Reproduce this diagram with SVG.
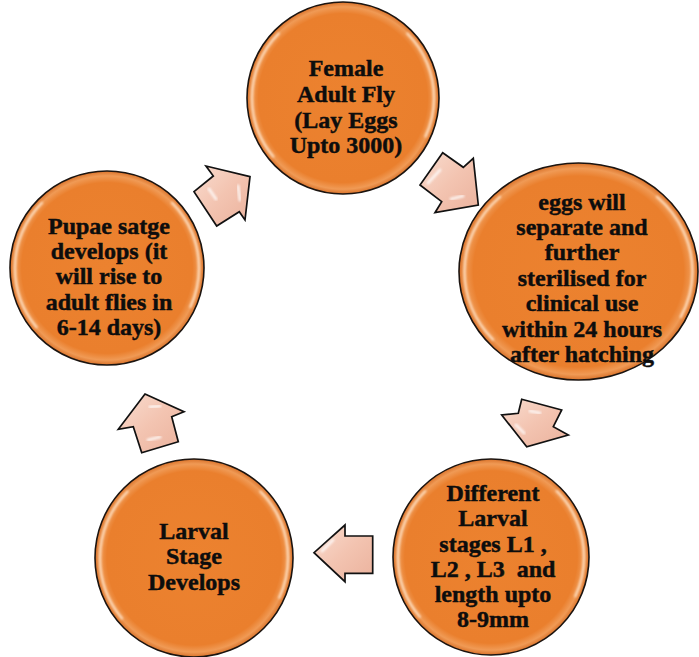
<svg xmlns="http://www.w3.org/2000/svg" width="699" height="657" viewBox="0 0 699 657">
  <defs>
    <radialGradient id="ballFill" cx="50%" cy="50%" r="50%">
      <stop offset="0" stop-color="#EC822F"/>
      <stop offset="0.88" stop-color="#EA7F2D"/>
      <stop offset="0.95" stop-color="#F09A55"/>
      <stop offset="1" stop-color="#D9722A"/>
    </radialGradient>
    <linearGradient id="arrowFill" x1="0" y1="0" x2="1" y2="1">
      <stop offset="0" stop-color="#F9DCCF"/>
      <stop offset="0.5" stop-color="#F3C4B1"/>
      <stop offset="1" stop-color="#EBB29D"/>
    </linearGradient>
    <filter id="soft" x="-20%" y="-20%" width="140%" height="140%">
      <feGaussianBlur stdDeviation="1"/>
    </filter>
  </defs>
  <style>
    .ball { fill: url(#ballFill); stroke: #1b1410; stroke-width: 1.6; }
    .gloss { fill: none; stroke: #FFE3C8; stroke-width: 2.5; stroke-linecap: round; opacity: 0.85; filter: url(#soft); }
    .arrow { fill: url(#arrowFill); stroke: #111; stroke-width: 1.7; stroke-linejoin: miter; }
    .shine { fill: none; stroke: #FFFFFF; stroke-width: 3; stroke-linecap: round; opacity: 0.75; filter: url(#soft); }
    .label { font-family: "Liberation Serif", "Times New Roman", serif; font-weight: bold; font-size: 24px; fill: #0d0d0d; stroke: #0d0d0d; stroke-width: 0.45; text-anchor: middle; }
  </style>

  <rect width="699" height="657" fill="#FFFFFF"/>

  <!-- block arrows joining the stages -->
  <g id="connectors">
    <g id="arrow-pupae-to-adult">
      <polygon class="arrow" points="250,176.7 206,166 213.3,176 194,191.7 216.7,226 239.3,211.7 245,220"/>
      <path class="shine" d="M209,189 L216,199"/>
      <path class="shine" d="M238,186 L240,200"/>
    </g>
    <g id="arrow-adult-to-eggs">
      <polygon class="arrow" points="442.7,152.7 463.3,167.3 473.3,158.3 478.3,205 435,212.7 441.7,201.7 420,185"/>
      <path class="shine" d="M428,183 L440,170"/>
      <path class="shine" d="M451,199 L463,196"/>
    </g>
    <g id="arrow-eggs-to-larval">
      <polygon class="arrow" points="521.7,399.3 561.7,410 553.3,426.7 568.3,435 526.7,446.7 501.7,415 518.3,413.3"/>
      <path class="shine" d="M530,411 L540,413"/>
      <path class="shine" d="M516,425 L524,433"/>
    </g>
    <g id="arrow-larval-to-stage">
      <polygon class="arrow" points="345,525 345,536 372.7,536 372.7,573.3 345,573.3 345,581.7 314,552.7"/>
      <path class="shine" d="M322,551 L333,540"/>
      <path class="shine" d="M364,545 L364,562"/>
    </g>
    <g id="arrow-stage-to-pupae">
      <polygon class="arrow" points="145,394 184,411.7 171.7,416.7 178.3,441.7 141.7,452.7 133.3,426.7 118.3,429.3"/>
      <path class="shine" d="M150,407 L160,406"/>
      <path class="shine" d="M148,440 L160,437"/>
    </g>
  </g>

  <!-- stage discs -->
  <g id="node-adult">
    <circle class="ball" cx="343" cy="98" r="96"/>
    <circle class="gloss" cx="343" cy="98" r="91" pathLength="360" stroke-dasharray="85 275" stroke-dashoffset="-140"/>
    <circle class="gloss" cx="343" cy="98" r="91" pathLength="360" stroke-dasharray="70 290" stroke-dashoffset="45"/>
    <text class="label" x="346" y="76">Female</text>
    <text class="label" x="346" y="102">Adult Fly</text>
    <text class="label" x="346" y="128">(Lay Eggs</text>
    <text class="label" x="346" y="153">Upto 3000)</text>
  </g>

  <g id="node-eggs">
    <ellipse class="ball" cx="578.5" cy="271.5" rx="119.5" ry="108.5"/>
    <ellipse class="gloss" cx="578.5" cy="271.5" rx="114" ry="103" pathLength="360" stroke-dasharray="85 275" stroke-dashoffset="-140"/>
    <ellipse class="gloss" cx="578.5" cy="271.5" rx="114" ry="103" pathLength="360" stroke-dasharray="70 290" stroke-dashoffset="45"/>
    <text class="label" x="582" y="210">eggs will</text>
    <text class="label" x="582" y="235">separate and</text>
    <text class="label" x="582" y="260">further</text>
    <text class="label" x="582" y="286">sterilised for</text>
    <text class="label" x="582" y="311">clinical use</text>
    <text class="label" x="582" y="337">within 24 hours</text>
    <text class="label" x="582" y="362">after hatching</text>
  </g>

  <g id="node-larval-stages">
    <circle class="ball" cx="491" cy="557" r="98"/>
    <circle class="gloss" cx="491" cy="557" r="93" pathLength="360" stroke-dasharray="85 275" stroke-dashoffset="-140"/>
    <circle class="gloss" cx="491" cy="557" r="93" pathLength="360" stroke-dasharray="70 290" stroke-dashoffset="45"/>
    <text class="label" x="493" y="501">Different</text>
    <text class="label" x="493" y="526">Larval</text>
    <text class="label" x="493" y="552">stages L1 ,</text>
    <text class="label" x="493" y="577" xml:space="preserve">L2 , L3  and</text>
    <text class="label" x="493" y="602">length upto</text>
    <text class="label" x="493" y="627">8-9mm</text>
  </g>

  <g id="node-larval-develops">
    <circle class="ball" cx="194" cy="558" r="99"/>
    <circle class="gloss" cx="194" cy="558" r="94" pathLength="360" stroke-dasharray="85 275" stroke-dashoffset="-140"/>
    <circle class="gloss" cx="194" cy="558" r="94" pathLength="360" stroke-dasharray="70 290" stroke-dashoffset="45"/>
    <text class="label" x="194" y="539">Larval</text>
    <text class="label" x="194" y="564">Stage</text>
    <text class="label" x="194" y="590">Develops</text>
  </g>

  <g id="node-pupae">
    <circle class="ball" cx="107" cy="268" r="97"/>
    <circle class="gloss" cx="107" cy="268" r="92" pathLength="360" stroke-dasharray="85 275" stroke-dashoffset="-140"/>
    <circle class="gloss" cx="107" cy="268" r="92" pathLength="360" stroke-dasharray="70 290" stroke-dashoffset="45"/>
    <text class="label" x="109" y="234">Pupae satge</text>
    <text class="label" x="109" y="259">develops (it</text>
    <text class="label" x="109" y="284">will rise to</text>
    <text class="label" x="109" y="310">adult flies in</text>
    <text class="label" x="109" y="335">6-14 days)</text>
  </g>
</svg>
